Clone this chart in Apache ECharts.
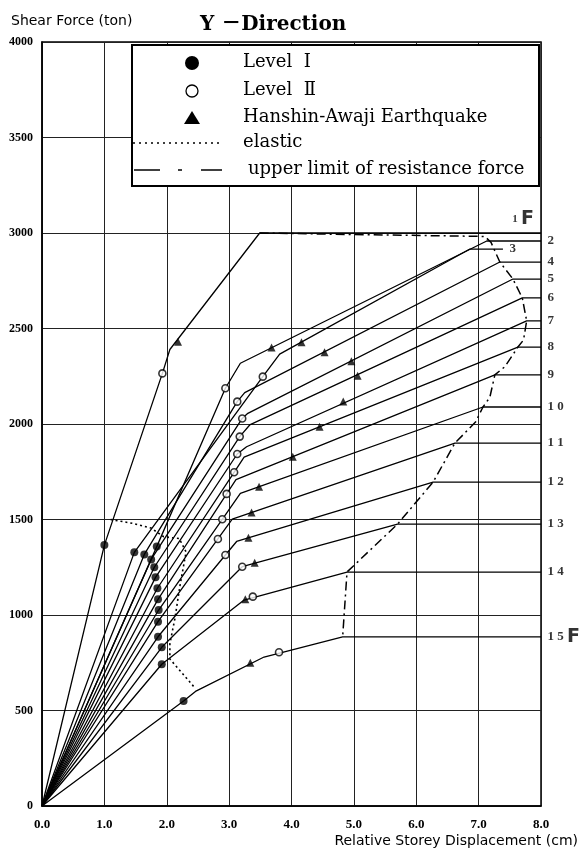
<!DOCTYPE html>
<html>
<head>
<meta charset="utf-8">
<script src="https://cdn.jsdelivr.net/npm/echarts/dist/echarts.min.js"></script>
<style>
html, body { margin: 0; padding: 0; background: #fff; }
#main { width: 582px; height: 854px; }
</style>
</head>
<body>
<div id="main"></div>
<script>
// storey shear vs. relative storey displacement, Y direction
var floorNames = ['1F', '2', '3', '4', '5', '6', '7', '8', '9', '1 0', '1 1', '1 2', '1 3', '1 4', '1 5F'];

// each storey: origin -> level I point -> level II point -> bend -> upper limit -> plateau
var floorPaths = [
  [[0, 0], [1.0, 1366], [1.93, 2265], [2.05, 2390], [3.49, 3000], [8, 3000]],
  [[0, 0], [1.84, 1358], [2.94, 2187], [3.18, 2318], [7.13, 2958], [8, 2958]],
  [[0, 0], [1.48, 1328], [3.54, 2248], [3.81, 2366], [6.86, 2916], [7.39, 2916]],
  [[0, 0], [1.64, 1317], [3.13, 2117], [3.25, 2164], [7.34, 2848], [8, 2848]],
  [[0, 0], [1.75, 1291], [3.21, 2029], [3.30, 2056], [7.55, 2759], [8, 2759]],
  [[0, 0], [1.80, 1250], [3.17, 1934], [3.33, 1995], [7.70, 2660], [8, 2660]],
  [[0, 0], [1.82, 1197], [3.13, 1843], [3.28, 1881], [7.77, 2540], [8, 2540]],
  [[0, 0], [1.85, 1140], [3.08, 1747], [3.24, 1827], [7.63, 2403], [8, 2403]],
  [[0, 0], [1.86, 1082], [2.96, 1634], [3.11, 1709], [7.26, 2257], [8, 2257]],
  [[0, 0], [1.87, 1026], [2.89, 1501], [3.18, 1637], [7.07, 2089], [8, 2089]],
  [[0, 0], [1.86, 965], [2.82, 1398], [3.05, 1502], [6.62, 1900], [8, 1900]],
  [[0, 0], [1.86, 886], [2.94, 1314], [3.12, 1385], [6.27, 1696], [8, 1696]],
  [[0, 0], [1.92, 831], [3.21, 1253], [3.23, 1257], [5.70, 1476], [8, 1476]],
  [[0, 0], [1.92, 742], [3.24, 1078], [4.89, 1225], [8, 1225]],
  [[0, 0], [2.27, 550], [2.46, 600], [3.56, 780], [4.82, 885], [8, 885]]
];

var levelI = [[1.0, 1366], [1.84, 1358], [1.48, 1328], [1.64, 1317], [1.75, 1291], [1.80, 1250],
  [1.82, 1197], [1.85, 1140], [1.86, 1082], [1.87, 1026], [1.86, 965], [1.86, 886],
  [1.92, 831], [1.92, 742], [2.27, 550]];

var levelII = [[1.93, 2265], [2.94, 2187], [3.54, 2248], [3.13, 2117], [3.21, 2029], [3.17, 1934],
  [3.13, 1843], [3.08, 1747], [2.96, 1634], [2.89, 1501], [2.82, 1398], [2.94, 1314],
  [3.21, 1253], [3.38, 1096], [3.80, 805]];

var hanshin = [[2.18, 2431], [3.68, 2400], [4.16, 2428], [4.53, 2376], [4.96, 2328], [5.06, 2252],
  [4.83, 2118], [4.45, 1986], [4.02, 1829], [3.48, 1672], [3.36, 1537], [3.31, 1404],
  [3.41, 1274], [3.26, 1082], [3.34, 750]];

var elasticLine = [[1.1, 1500], [1.45, 1480], [1.75, 1455], [1.95, 1410], [2.2, 1400], [2.31, 1330],
  [2.21, 1150], [2.13, 980], [2.05, 850], [2.05, 770], [2.46, 615]];

var upperLimit = [[3.49, 3000], [5.0, 2992], [7.1, 2982], [7.2, 2950], [7.34, 2848], [7.55, 2759],
  [7.70, 2660], [7.77, 2540], [7.72, 2440], [7.63, 2403], [7.42, 2300], [7.26, 2257],
  [7.18, 2140], [7.07, 2089], [6.95, 2010], [6.62, 1900], [6.27, 1696], [5.70, 1476],
  [4.89, 1225], [4.82, 885]];

var xTicks = [0, 1, 2, 3, 4, 5, 6, 7, 8];
var yTicks = [0, 500, 1000, 1500, 2000, 2500, 3000, 3500, 4000];

var serif = "'DejaVu Serif', 'Liberation Serif', 'Noto Sans CJK JP', serif";
var tickFont = "'Liberation Serif', serif";

var myChart = echarts.init(document.getElementById('main'));

var series = [];
floorPaths.forEach(function (p, i) {
  series.push({
    name: floorNames[i],
    type: 'line',
    data: p,
    symbol: 'none',
    lineStyle: { color: '#000', width: 1.3 },
    z: 3
  });
});

series.push({
  name: 'elastic', type: 'line', data: elasticLine, symbol: 'none',
  lineStyle: { color: '#000', width: 1.6, type: [2, 3] }, z: 4
});
series.push({
  name: 'upper limit', type: 'line', data: upperLimit, symbol: 'none',
  lineStyle: { color: '#000', width: 1.5, type: [9, 4, 2, 4] }, z: 4
});
series.push({
  name: 'Level I', type: 'scatter', data: levelI, symbol: 'circle', symbolSize: 8,
  itemStyle: { color: '#000' }, z: 5
});
series.push({
  name: 'Level II', type: 'scatter', data: levelII, symbol: 'circle', symbolSize: 7,
  itemStyle: { color: '#fff', borderColor: '#000', borderWidth: 1.6 }, z: 5
});
series.push({
  name: 'Hanshin-Awaji Earthquake', type: 'scatter', data: hanshin, symbol: 'triangle', symbolSize: 8,
  itemStyle: { color: '#000' }, z: 5
});

// storey labels at the end of each plateau
var labelData = floorPaths.map(function (p, i) {
  var item = { value: p[p.length - 1], name: floorNames[i] };
  if (i === 0) {
    item.label = { position: 'top', offset: [-18, 2], formatter: '{s|1} {b|F}' };
  } else if (i === floorPaths.length - 1) {
    item.label = { formatter: '1 5 {b|F}' };
  }
  return item;
});
series.push({
  name: 'floors', type: 'scatter', data: labelData, symbolSize: 1,
  itemStyle: { color: 'rgba(0,0,0,0)' },
  label: {
    show: true, position: 'right', distance: 6,
    formatter: '{b}', color: '#000',
    fontFamily: tickFont, fontWeight: 'bold', fontSize: 13,
    rich: {
      s: { fontFamily: tickFont, fontSize: 11, color: '#000' },
      b: { fontFamily: "'DejaVu Sans', sans-serif", fontSize: 19, color: '#000' }
    }
  },
  z: 6
});

var option = {
  animation: false,
  title: {
    text: 'Y －Direction',
    left: 195, top: 10,
    textStyle: { fontFamily: serif, fontWeight: 'bold', fontSize: 20, color: '#000' }
  },
  grid: { left: 42, top: 42, right: 41, bottom: 48, show: true, borderColor: '#000', borderWidth: 1.5 },
  xAxis: {
    type: 'value', min: xTicks[0], max: xTicks[xTicks.length - 1], interval: 1,
    axisLine: { lineStyle: { color: '#000', width: 1.5 } },
    axisTick: { show: false },
    splitLine: { lineStyle: { color: '#222', width: 1 } },
    axisLabel: {
      margin: 12, color: '#000', fontFamily: tickFont, fontWeight: 'bold', fontSize: 13,
      formatter: function (v) { return v.toFixed(1); }
    }
  },
  yAxis: {
    type: 'value', min: yTicks[0], max: yTicks[yTicks.length - 1], interval: 500,
    axisLine: { show: true, lineStyle: { color: '#000', width: 1.5 } },
    axisTick: { show: false },
    splitLine: { lineStyle: { color: '#222', width: 1 } },
    axisLabel: {
      margin: 9, color: '#000', fontFamily: tickFont, fontWeight: 'bold', fontSize: 12,
      formatter: function (v) { return String(v); }
    }
  },
  graphic: [
    { type: 'text', left: 11, top: 14, z: 10,
      style: { text: 'Shear Force (ton)', font: "14px 'DejaVu Sans', sans-serif", fill: '#000' } },
    { type: 'text', right: 4, top: 834, z: 10,
      style: { text: 'Relative Storey Displacement (cm)', font: "14px 'DejaVu Sans', sans-serif", fill: '#000' } },
    // legend box
    { type: 'rect', z: 20, shape: { x: 132, y: 45, width: 407, height: 141 },
      style: { fill: '#fff', stroke: '#000', lineWidth: 2 } },
    { type: 'circle', z: 21, shape: { cx: 192, cy: 63, r: 7 }, style: { fill: '#000' } },
    { type: 'circle', z: 21, shape: { cx: 192, cy: 91, r: 6 }, style: { fill: '#fff', stroke: '#000', lineWidth: 1.3 } },
    { type: 'polygon', z: 21, shape: { points: [[184, 124], [200, 124], [192, 111]] }, style: { fill: '#000' } },
    { type: 'line', z: 21, shape: { x1: 133, y1: 143, x2: 222, y2: 143 },
      style: { stroke: '#000', lineWidth: 1.5, lineDash: [2, 4] } },
    { type: 'line', z: 21, shape: { x1: 134, y1: 170, x2: 160, y2: 170 }, style: { stroke: '#000', lineWidth: 1.5 } },
    { type: 'line', z: 21, shape: { x1: 178, y1: 170, x2: 182, y2: 170 }, style: { stroke: '#000', lineWidth: 1.5 } },
    { type: 'line', z: 21, shape: { x1: 201, y1: 170, x2: 222, y2: 170 }, style: { stroke: '#000', lineWidth: 1.5 } },
    { type: 'text', z: 21, left: 243, top: 53, style: { text: 'Level  Ⅰ', font: '18px ' + serif, fill: '#000' } },
    { type: 'text', z: 21, left: 243, top: 81, style: { text: 'Level  Ⅱ', font: '18px ' + serif, fill: '#000' } },
    { type: 'text', z: 21, left: 243, top: 108, style: { text: 'Hanshin-Awaji Earthquake', font: '18px ' + serif, fill: '#000' } },
    { type: 'text', z: 21, left: 243, top: 133, style: { text: 'elastic', font: '18px ' + serif, fill: '#000' } },
    { type: 'text', z: 21, left: 248, top: 160, style: { text: 'upper limit of resistance force', font: '18px ' + serif, fill: '#000' } }
  ],
  series: series
};

myChart.setOption(option);
</script>
</body>
</html>
